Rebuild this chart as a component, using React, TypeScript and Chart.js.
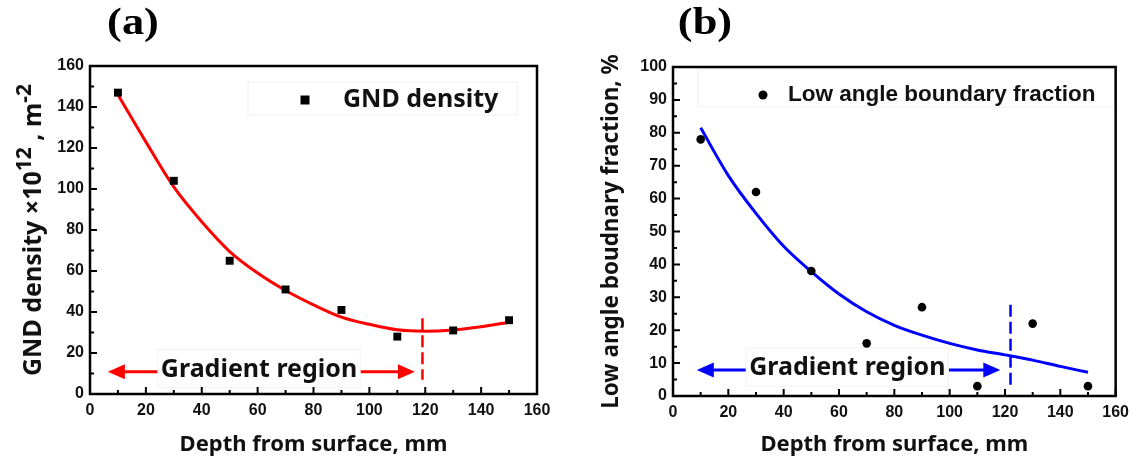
import React, { useEffect, useRef } from "react";
import { Chart, registerables } from "chart.js";

Chart.register(...registerables);

// ---------- DATA ----------
const depthPoints = [10, 30, 50, 70, 90, 110, 130, 150];
const gndDensity = [147, 104, 65, 51, 41, 28, 31, 36];
const lowAngleFraction = [78, 62, 38, 16, 27, 3, 22, 3];

const fitDepths = [10, 20, 30, 40, 50, 60, 70, 80, 90, 100, 110, 120, 130, 140, 150];
const gndFit = [146, 123, 101, 84, 69.5, 59, 50.5, 43.5, 37.5, 34, 31.3, 30.6, 31.2, 32.8, 35];
const lowAngleFit = [81.5, 67, 55.5, 45.5, 37.8, 31, 25.6, 21.5, 18.5, 16, 14, 12.5, 10.9, 9, 7.2];

const xTicks = [0, 20, 40, 60, 80, 100, 120, 140, 160];
const gndTicks = [0, 20, 40, 60, 80, 100, 120, 140, 160];
const lowAngleTicks = [0, 10, 20, 30, 40, 50, 60, 70, 80, 90, 100];

// gradient-region annotations (data units)
const gndBoundaryX = 119;
const gndBoundaryY = [7, 37];
const gndArrowX = [6.4, 116.3];
const gndArrowY = 10.9;
const gndRegionLabelX = 60.5;

const lowBoundaryX = 122;
const lowBoundaryY = [3.3, 27.7];
const lowArrowX = [8.6, 118.3];
const lowArrowY = 7.9;
const lowRegionLabelX = 63;

// y-axis title of panel (a), with superscripts
const gndTitleParts = [
  { text: "GND density ×10", sup: false },
  { text: "12", sup: true },
  { text: " , m", sup: false },
  { text: "-2", sup: true },
];

const TICK_FONT = { family: "'Liberation Sans', Arial, sans-serif", size: 16, weight: "bold" as const };
const TITLE_FAMILY = "'Noto Sans', 'Open Sans', sans-serif";

type PanelCfg = {
  panel: string;
  panelX: number;
  color: string;
  marker: "rect" | "circle";
  values: number[];
  fit: number[];
  legendText: string;
  legendFont: string;
  legendBox: [number, number, number, number];
  legendMarker: [number, number];
  legendTextX: number;
  yMax: number;
  yTicks: number[];
  yTitle: string;
  customYTitle: boolean;
  yTitlePad: number;
  yAxisWidth: number;
  xAxisHeight: number;
  padRight: number;
  padTop: number;
  boundaryX: number;
  boundaryY: number[];
  arrowX: number[];
  arrowY: number;
  labelX: number;
};

const panelA: PanelCfg = {
  panel: "(a)",
  panelX: 133,
  color: "#ff0000",
  marker: "rect",
  values: gndDensity,
  fit: gndFit,
  legendText: "GND density",
  legendFont: `bold 25px ${TITLE_FAMILY}`,
  legendBox: [248, 82, 517, 115],
  legendMarker: [305, 100],
  legendTextX: 343,
  yMax: 160,
  yTicks: gndTicks,
  yTitle: "GND density ×10¹² , m⁻²",
  customYTitle: true,
  yTitlePad: 21,
  yAxisWidth: 90,
  xAxisHeight: 69,
  padRight: 31,
  padTop: 66,
  boundaryX: gndBoundaryX,
  boundaryY: gndBoundaryY,
  arrowX: gndArrowX,
  arrowY: gndArrowY,
  labelX: gndRegionLabelX,
};

const panelB: PanelCfg = {
  panel: "(b)",
  panelX: 137,
  color: "#0000ff",
  marker: "circle",
  values: lowAngleFraction,
  fit: lowAngleFit,
  legendText: "Low angle boundary fraction",
  legendFont: "bold 22.5px 'Liberation Sans', Arial, sans-serif",
  legendBox: [130, 69, 547, 107],
  legendMarker: [195, 95],
  legendTextX: 220,
  yMax: 100,
  yTicks: lowAngleTicks,
  yTitle: "Low angle boudnary fraction, %",
  customYTitle: false,
  yTitlePad: 30,
  yAxisWidth: 105,
  xAxisHeight: 67,
  padRight: 18,
  padTop: 67,
  boundaryX: lowBoundaryX,
  boundaryY: lowBoundaryY,
  arrowX: lowArrowX,
  arrowY: lowArrowY,
  labelX: lowRegionLabelX,
};

function decoPlugin(cfg: PanelCfg) {
  return {
    id: "deco" + cfg.panel,
    beforeDatasetsDraw(chart: any) {
      const { ctx } = chart;
      const xs = chart.scales.x;
      const ys = chart.scales.y;
      ctx.save();

      // dashed boundary
      ctx.strokeStyle = cfg.color;
      ctx.lineWidth = 2.5;
      ctx.setLineDash([12, 5]);
      const bx = xs.getPixelForValue(cfg.boundaryX);
      ctx.beginPath();
      ctx.moveTo(bx, ys.getPixelForValue(cfg.boundaryY[1]));
      ctx.lineTo(bx, ys.getPixelForValue(cfg.boundaryY[0]));
      ctx.stroke();
      ctx.setLineDash([]);

      // arrows
      const ay = ys.getPixelForValue(cfg.arrowY);
      const x1 = xs.getPixelForValue(cfg.arrowX[0]);
      const x2 = xs.getPixelForValue(cfg.arrowX[1]);
      const head = 17;
      const hw = 7.5;
      ctx.lineWidth = 3;
      ctx.beginPath();
      ctx.moveTo(x1 + head - 2, ay);
      ctx.lineTo(x2 - head + 2, ay);
      ctx.stroke();
      ctx.fillStyle = cfg.color;
      ctx.beginPath();
      ctx.moveTo(x1, ay);
      ctx.lineTo(x1 + head, ay - hw);
      ctx.lineTo(x1 + head, ay + hw);
      ctx.closePath();
      ctx.fill();
      ctx.beginPath();
      ctx.moveTo(x2, ay);
      ctx.lineTo(x2 - head, ay - hw);
      ctx.lineTo(x2 - head, ay + hw);
      ctx.closePath();
      ctx.fill();

      // gradient region label
      const lx = xs.getPixelForValue(cfg.labelX);
      ctx.font = `bold 25px ${TITLE_FAMILY}`;
      const tw = ctx.measureText("Gradient region").width;
      ctx.fillStyle = "#ffffff";
      ctx.fillRect(lx - tw / 2 - 3, ay - 22, tw + 6, 38);
      ctx.strokeStyle = "#f2f2f2";
      ctx.lineWidth = 1;
      ctx.strokeRect(lx - tw / 2 - 3, ay - 22, tw + 6, 38);
      ctx.fillStyle = "#111111";
      ctx.textAlign = "center";
      ctx.textBaseline = "middle";
      ctx.fillText("Gradient region", lx, ay - 2);

      // legend
      const [bl, bt, br, bb] = cfg.legendBox;
      ctx.strokeStyle = "#f0f0f0";
      ctx.strokeRect(bl, bt, br - bl, bb - bt);
      ctx.fillStyle = "#000000";
      const [mx, my] = cfg.legendMarker;
      if (cfg.marker === "rect") {
        ctx.fillRect(mx - 4.5, my - 4.5, 9, 9);
      } else {
        ctx.beginPath();
        ctx.arc(mx, my, 4.5, 0, Math.PI * 2);
        ctx.fill();
      }
      ctx.font = cfg.legendFont;
      ctx.textAlign = "left";
      ctx.textBaseline = "middle";
      ctx.fillStyle = "#111111";
      ctx.fillText(cfg.legendText, cfg.legendTextX, my);
      ctx.restore();
    },
    afterDatasetsDraw(chart: any) {
      const { ctx, chartArea } = chart;
      const xs = chart.scales.x;
      const ys = chart.scales.y;
      ctx.save();

      // frame
      ctx.strokeStyle = "#000000";
      ctx.lineWidth = 2.5;
      ctx.strokeRect(chartArea.left, chartArea.top, chartArea.right - chartArea.left, chartArea.bottom - chartArea.top);

      // inward ticks
      ctx.lineWidth = 2;
      ctx.beginPath();
      for (let i = 0; i < xTicks.length; i++) {
        const px = xs.getPixelForValue(xTicks[i]);
        ctx.moveTo(px, chartArea.bottom);
        ctx.lineTo(px, chartArea.bottom - 7);
        if (i < xTicks.length - 1) {
          const pm = xs.getPixelForValue((xTicks[i] + xTicks[i + 1]) / 2);
          ctx.moveTo(pm, chartArea.bottom);
          ctx.lineTo(pm, chartArea.bottom - 4);
        }
      }
      for (let i = 0; i < cfg.yTicks.length; i++) {
        const py = ys.getPixelForValue(cfg.yTicks[i]);
        ctx.moveTo(chartArea.left, py);
        ctx.lineTo(chartArea.left + 7, py);
        if (i < cfg.yTicks.length - 1) {
          const pm = ys.getPixelForValue((cfg.yTicks[i] + cfg.yTicks[i + 1]) / 2);
          ctx.moveTo(chartArea.left, pm);
          ctx.lineTo(chartArea.left + 4, pm);
        }
      }
      ctx.stroke();

      // custom y title with superscripts
      if (cfg.customYTitle) {
        const mainFont = `bold 25px ${TITLE_FAMILY}`;
        const supFont = `bold 21px ${TITLE_FAMILY}`;
        let total = 0;
        const widths = gndTitleParts.map((p) => {
          ctx.font = p.sup ? supFont : mainFont;
          const w = ctx.measureText(p.text).width;
          total += w;
          return w;
        });
        const cy = (chartArea.top + chartArea.bottom) / 2;
        ctx.save();
        ctx.translate(32, cy);
        ctx.rotate(-Math.PI / 2);
        ctx.textAlign = "left";
        ctx.textBaseline = "alphabetic";
        ctx.fillStyle = "#111111";
        let x = -total / 2;
        gndTitleParts.forEach((p, i) => {
          ctx.font = p.sup ? supFont : mainFont;
          ctx.fillText(p.text, x, p.sup ? -1 : 9);
          x += widths[i];
        });
        ctx.restore();
      }

      // panel label
      ctx.save();
      ctx.translate(cfg.panelX, 24);
      ctx.scale(1.2, 1);
      ctx.font = "bold 37px 'Liberation Serif', 'Times New Roman', serif";
      ctx.textAlign = "center";
      ctx.textBaseline = "middle";
      ctx.fillStyle = "#000000";
      ctx.fillText(cfg.panel, 0, 0);
      ctx.restore();

      ctx.restore();
    },
  };
}

function buildChart(canvas: HTMLCanvasElement, cfg: PanelCfg) {
  return new Chart(canvas, {
    type: "scatter",
    data: {
      datasets: [
        {
          label: cfg.legendText,
          data: depthPoints.map((x, i) => ({ x, y: cfg.values[i] })),
          pointStyle: cfg.marker,
          pointRadius: cfg.marker === "rect" ? 5.6 : 4.3,
          backgroundColor: "#000000",
          borderColor: "#000000",
          borderWidth: 0,
          showLine: false,
        },
        {
          label: "fit",
          data: fitDepths.map((x, i) => ({ x, y: cfg.fit[i] })),
          showLine: true,
          pointRadius: 0,
          borderColor: cfg.color,
          borderWidth: 3,
          cubicInterpolationMode: "monotone",
          fill: false,
        },
      ],
    },
    options: {
      responsive: false,
      animation: false,
      events: [],
      layout: { padding: { top: cfg.padTop, right: cfg.padRight, left: 0, bottom: 0 } },
      plugins: { legend: { display: false }, tooltip: { enabled: false }, title: { display: false } },
      scales: {
        x: {
          type: "linear",
          position: "bottom",
          min: 0,
          max: 160,
          afterBuildTicks: (s: any) => {
            s.ticks = xTicks.map((v) => ({ value: v }));
          },
          ticks: { font: TICK_FONT, color: "#111111", padding: 7, maxRotation: 0, autoSkip: false },
          grid: { display: false, drawTicks: false },
          border: { display: false },
          title: {
            display: true,
            text: "Depth from surface, mm",
            color: "#111111",
            font: { family: TITLE_FAMILY, size: 22, weight: "bold" },
            padding: { top: 0, bottom: 5 },
          },
          afterFit: (s: any) => {
            s.height = cfg.xAxisHeight;
          },
        },
        y: {
          type: "linear",
          min: 0,
          max: cfg.yMax,
          afterBuildTicks: (s: any) => {
            s.ticks = cfg.yTicks.map((v) => ({ value: v }));
          },
          ticks: { font: TICK_FONT, color: "#111111", padding: 6, autoSkip: false },
          grid: { display: false, drawTicks: false },
          border: { display: false },
          title: {
            display: !cfg.customYTitle,
            text: cfg.yTitle,
            color: "#111111",
            font: { family: TITLE_FAMILY, size: 22.5, weight: "bold" },
            padding: { top: cfg.yTitlePad, bottom: 0 },
          },
          afterFit: (s: any) => {
            s.width = cfg.yAxisWidth;
          },
        },
      },
    },
    plugins: [decoPlugin(cfg)],
  } as any);
}

function Panel({ cfg, left }: { cfg: PanelCfg; left: number }) {
  const ref = useRef<HTMLCanvasElement | null>(null);
  useEffect(() => {
    if (!ref.current) return;
    const chart = buildChart(ref.current, cfg);
    return () => chart.destroy();
  }, [cfg]);
  return (
    <canvas
      ref={ref}
      width={568}
      height={463}
      style={{ position: "absolute", left, top: 0, width: 568, height: 463 }}
    />
  );
}

export default function App() {
  return (
    <div
      style={{
        position: "fixed",
        left: 0,
        top: 0,
        width: 1136,
        height: 463,
        background: "#ffffff",
        overflow: "hidden",
      }}
    >
      <Panel cfg={panelA} left={0} />
      <Panel cfg={panelB} left={568} />
    </div>
  );
}
